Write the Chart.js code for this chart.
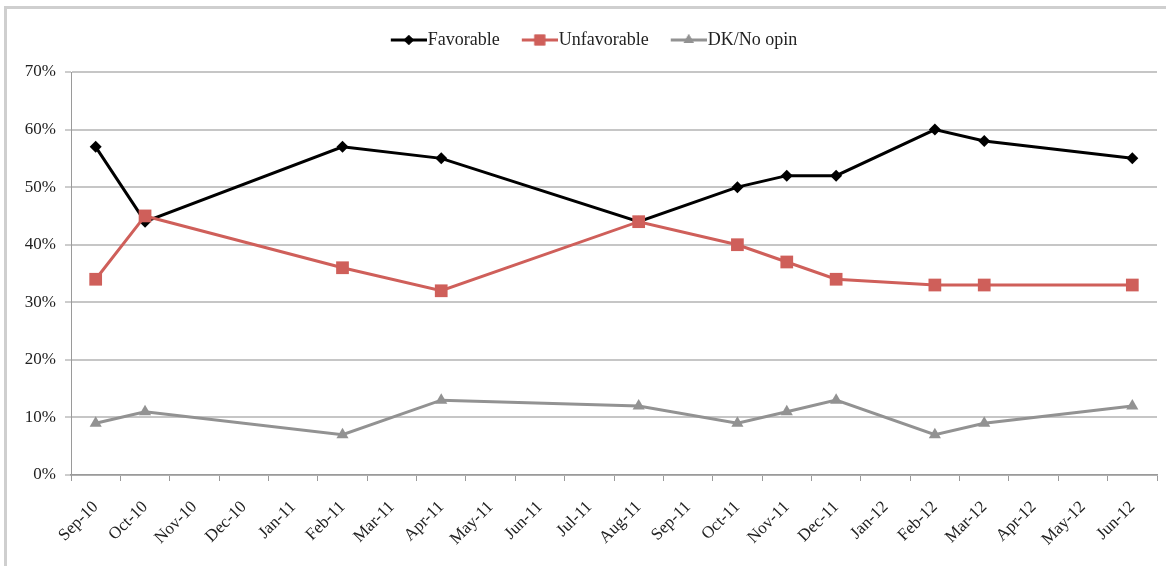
<!DOCTYPE html>
<html lang="en">
  <head>
    <meta charset="UTF-8" />
    <title>Favorable / Unfavorable</title>
    <style>
      body { margin: 0; background: #fff; }
      #wrap { position: relative; width: 1166px; height: 566px; overflow: hidden; }
      #frame {
        position: absolute; left: 4px; top: 6px; width: 1200px; height: 600px;
        border-top: 3px solid #cfcfcf; border-left: 3px solid #cfcfcf;
      }
      #chart { position: absolute; left: 0; top: 0; }
    </style>
  </head>
  <script src="https://cdn.jsdelivr.net/npm/chart.js@4.4.1/dist/chart.umd.min.js"></script>
  <body>
    <div id="wrap">
      <div id="frame"></div>
      <canvas id="chart" width="1166" height="566"></canvas>
    </div>
    <script>
      const months = [
        'Sep-10', 'Oct-10', 'Nov-10', 'Dec-10', 'Jan-11', 'Feb-11', 'Mar-11', 'Apr-11',
        'May-11', 'Jun-11', 'Jul-11', 'Aug-11', 'Sep-11', 'Oct-11', 'Nov-11', 'Dec-11',
        'Jan-12', 'Feb-12', 'Mar-12', 'Apr-12', 'May-12', 'Jun-12'
      ];
      // null = no poll that month
      const favorable = [57, 44, null, null, null, 57, null, 55, null, null, null, 44,
        null, 50, 52, 52, null, 60, 58, null, null, 55];
      const unfavorable = [34, 45, null, null, null, 36, null, 32, null, null, null, 44,
        null, 40, 37, 34, null, 33, 33, null, null, 33];
      const dkNoOpinion = [9, 11, null, null, null, 7, null, 13, null, null, null, 12,
        null, 9, 11, 13, null, 7, 9, null, null, 12];
      const yTicks = [0, 10, 20, 30, 40, 50, 60, 70];

      const favColor = '#000000';
      const unfavColor = '#cf5f5a';
      const dkColor = '#929292';
      const fontFamily = '"Liberation Serif", "Times New Roman", serif';

      // little line + marker swatch for the legend
      function swatch(color, style, radius) {
        const c = document.createElement('canvas');
        c.width = 44;
        c.height = 20;
        const g = c.getContext('2d');
        g.strokeStyle = color;
        g.lineWidth = 3;
        g.beginPath();
        g.moveTo(8, 10);
        g.lineTo(44, 10);
        g.stroke();
        g.fillStyle = color;
        Chart.helpers.drawPoint(g, { pointStyle: style, radius: radius, borderWidth: 0 }, 26, 10);
        g.fill();
        return c;
      }

      const legendTweak = {
        id: 'legendTweak',
        afterInit(chart) {
          const fit = chart.legend.fit;
          chart.legend.fit = function () {
            fit.call(this);
            this.height = 63;
          };
        },
        afterUpdate(chart) {
          chart.legend.left += 12;
          chart.legend.right += 12;
        }
      };

      const ctx = document.getElementById('chart').getContext('2d');
      const datasets = [
        {
          label: 'Favorable',
          data: favorable,
          borderColor: favColor,
          backgroundColor: favColor,
          pointStyle: 'rectRot',
          pointRadius: 6,
          order: 3
        },
        {
          label: 'Unfavorable',
          data: unfavorable,
          borderColor: unfavColor,
          backgroundColor: unfavColor,
          pointStyle: 'rect',
          pointRadius: 9,
          order: 2
        },
        {
          label: 'DK/No opin',
          data: dkNoOpinion,
          borderColor: dkColor,
          backgroundColor: dkColor,
          pointStyle: 'triangle',
          pointRadius: 7,
          order: 1
        }
      ];

      new Chart(ctx, {
        type: 'line',
        data: { labels: months, datasets: datasets },
        plugins: [legendTweak],
        options: {
          responsive: false,
          animation: false,
          spanGaps: true,
          layout: { padding: { top: 9, left: 4, right: 6, bottom: 0 } },
          elements: {
            line: { borderWidth: 3, tension: 0 },
            point: { borderWidth: 0, hoverRadius: 6 }
          },
          plugins: {
            tooltip: { enabled: false },
            legend: {
              position: 'top',
              labels: {
                color: '#222',
                font: { family: fontFamily, size: 18 },
                usePointStyle: true,
                pointStyleWidth: 28,
                padding: 22,
                generateLabels: (chart) =>
                  chart.data.datasets.map((ds, i) => ({
                    text: ds.label,
                    datasetIndex: i,
                    fillStyle: ds.borderColor,
                    strokeStyle: ds.borderColor,
                    lineWidth: 0,
                    fontColor: '#222',
                    hidden: false,
                    pointStyle: swatch(ds.borderColor, ds.pointStyle, ds.pointRadius * 0.85)
                  }))
              }
            }
          },
          scales: {
            x: {
              offset: true,
              afterFit: (scale) => { scale.height = 91; },
              grid: {
                offset: true,
                drawOnChartArea: false,
                drawTicks: true,
                tickLength: 6,
                tickColor: '#9a9a9a',
                tickWidth: 1
              },
              border: { color: '#9a9a9a', width: 1.5 },
              ticks: {
                autoSkip: false,
                minRotation: 45,
                maxRotation: 45,
                padding: 16,
                color: '#222',
                font: { family: fontFamily, size: 17 }
              }
            },
            y: {
              min: 0,
              max: 70,
              afterFit: (scale) => { scale.width = 67; },
              afterBuildTicks: (scale) => {
                scale.ticks = yTicks.map((v) => ({ value: v }));
              },
              grid: {
                color: '#c6c6c6',
                lineWidth: 2,
                tickLength: 6,
                tickColor: '#9a9a9a',
                tickWidth: 1
              },
              border: { color: '#9a9a9a', width: 1 },
              ticks: {
                padding: 9,
                color: '#222',
                font: { family: fontFamily, size: 17 },
                callback: (v) => v + '%'
              }
            }
          }
        }
      });
    </script>
  </body>
</html>
